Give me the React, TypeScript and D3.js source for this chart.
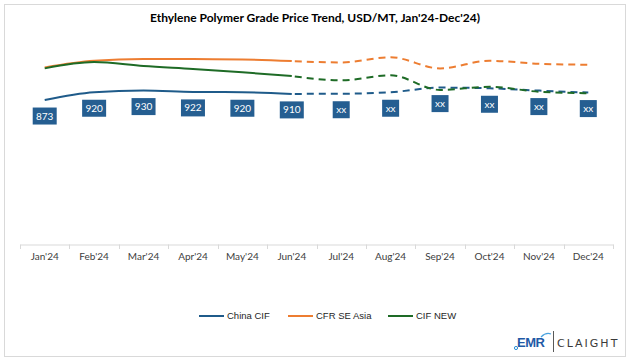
import { useRef, useEffect } from 'react'
import * as d3 from 'd3'

const months = ["Jan'24", "Feb'24", "Mar'24", "Apr'24", "May'24", "Jun'24", "Jul'24", "Aug'24", "Sep'24", "Oct'24", "Nov'24", "Dec'24"]
const chinaCif = [873, 920, 930, 922, 920, 910, 911, 920, 948, 944, 930, 918]
const cfrSeAsia = [1070, 1110, 1120, 1120, 1118, 1108, 1100, 1131, 1064, 1110, 1092, 1086]
const cifNew = [1064, 1102, 1078, 1060, 1040, 1018, 992, 1022, 934, 953, 923, 914]
const chinaLabels = ['873', '920', '930', '922', '920', '910', 'xx', 'xx', 'xx', 'xx', 'xx', 'xx']
const actualCount = 6 // Jan..Jun are actuals, the rest is dashed forecast

const seriesNames = ['China CIF', 'CFR SE Asia', 'CIF NEW']
const seriesColors = ['#1f5b8a', '#ed7d31', '#1e6b26']

const W = 631
const H = 361

function Chart() {
  const svgRef = useRef<SVGSVGElement>(null)

  useEffect(() => {
    if (!svgRef.current) return
    const svg = d3.select(svgRef.current)
    svg.selectAll('*').remove()

    const x = d3.scaleBand<string>().domain(months).range([20, 613])
    const y = d3.scaleLinear().domain([0, 1400]).range([244.7, 12.7])
    const cx = (m: string) => (x(m) ?? 0) + x.bandwidth() / 2

    // outer frame
    svg.append('rect')
      .attr('x', 4.5).attr('y', 4.5)
      .attr('width', 621).attr('height', 352)
      .attr('fill', '#fff')
      .attr('stroke', '#d9d9d9')

    svg.append('text')
      .attr('x', 315).attr('y', 22)
      .attr('text-anchor', 'middle')
      .attr('font-family', 'Lato, sans-serif')
      .attr('font-weight', 'bold')
      .attr('font-size', 12)
      .attr('fill', '#000')
      .text("Ethylene Polymer Grade Price Trend, USD/MT, Jan'24-Dec'24)")

    // x axis
    const axis = svg.append('g')
      .attr('transform', 'translate(0,244.5)')
      .call(d3.axisBottom(x).tickSize(0).tickPadding(8))
    axis.select('.domain').attr('stroke', '#d9d9d9')
    axis.selectAll('text')
      .attr('font-family', 'Lato, sans-serif')
      .attr('font-size', 10)
      .attr('fill', '#404040')
    const bounds = months.map((m) => x(m) ?? 0).concat([x.range()[1]])
    svg.append('g').selectAll('line')
      .data(bounds)
      .join('line')
      .attr('x1', (d) => Math.round(d) + 0.5).attr('x2', (d) => Math.round(d) + 0.5)
      .attr('y1', 244.5).attr('y2', 249)
      .attr('stroke', '#d9d9d9')

    const allSeries = [chinaCif, cfrSeAsia, cifNew]
    const line = d3.line<[string, number]>()
      .x((d) => cx(d[0]))
      .y((d) => y(d[1]))
      .curve(d3.curveMonotoneX)

    allSeries.forEach((vals, i) => {
      const pts = months.map((m, j) => [m, vals[j]] as [string, number])
      svg.append('path')
        .attr('d', line(pts.slice(0, actualCount)))
        .attr('fill', 'none')
        .attr('stroke', seriesColors[i])
        .attr('stroke-width', 2)
      svg.append('path')
        .attr('d', line(pts.slice(actualCount - 1)))
        .attr('fill', 'none')
        .attr('stroke', seriesColors[i])
        .attr('stroke-width', 2)
        .attr('stroke-dasharray', '7,5')
        .attr('stroke-dashoffset', -3)
    })

    // data labels for China CIF
    const lab = svg.append('g').selectAll('g')
      .data(months)
      .join('g')
      .attr('transform', (m, j) => `translate(${cx(m)},${y(chinaCif[j]) + 16})`)
    lab.append('rect')
      .attr('x', (_, j) => (chinaLabels[j].length > 2 ? -12 : -8.5))
      .attr('y', -8.5)
      .attr('width', (_, j) => (chinaLabels[j].length > 2 ? 24 : 17))
      .attr('height', 17)
      .attr('fill', '#255e91')
    lab.append('text')
      .attr('text-anchor', 'middle')
      .attr('dy', '0.35em')
      .attr('font-family', 'Lato, sans-serif')
      .attr('font-size', 10)
      .attr('fill', '#fff')
      .text((_, j) => chinaLabels[j])

    // legend
    const legendX = [199, 288, 388]
    seriesNames.forEach((name, i) => {
      svg.append('line')
        .attr('x1', legendX[i]).attr('x2', legendX[i] + 25)
        .attr('y1', 316).attr('y2', 316)
        .attr('stroke', seriesColors[i])
        .attr('stroke-width', 2)
      svg.append('text')
        .attr('x', legendX[i] + 28).attr('y', 316)
        .attr('dy', '0.35em')
        .attr('font-family', '"Liberation Sans", Arial, sans-serif')
        .attr('font-size', 9.5)
        .attr('fill', '#262626')
        .text(name)
    })

    // logo
    const logo = svg.append('g')
    logo.append('text')
      .attr('x', 517).attr('y', 347)
      .attr('font-family', '"Liberation Sans", Arial, sans-serif')
      .attr('font-weight', 'bold')
      .attr('font-size', 13)
      .attr('letter-spacing', -0.5)
      .attr('fill', '#1f5aa6')
      .text('EMR')
    logo.append('circle')
      .attr('cx', 516).attr('cy', 348).attr('r', 1.6)
      .attr('fill', 'none').attr('stroke', '#2a8fd6').attr('stroke-width', 1)
    logo.append('path')
      .attr('d', 'M541,337 Q546,332 551,334')
      .attr('fill', 'none').attr('stroke', '#4aa3e0').attr('stroke-width', 1.2)
    logo.append('line')
      .attr('x1', 553.5).attr('x2', 553.5)
      .attr('y1', 331).attr('y2', 352)
      .attr('stroke', '#595959')
    logo.append('text')
      .attr('x', 557).attr('y', 347)
      .attr('font-family', '"DejaVu Sans", sans-serif')
      .attr('font-size', 11)
      .attr('letter-spacing', 2)
      .attr('fill', '#3a3a3a')
      .text('CLAIGHT')
  }, [])

  return <svg ref={svgRef} width={W} height={H} style={{ display: 'block' }} />
}

export default function App() {
  return (
    <div style={{ position: 'absolute', left: 0, top: 0, background: '#fff' }}>
      <Chart />
    </div>
  )
}
